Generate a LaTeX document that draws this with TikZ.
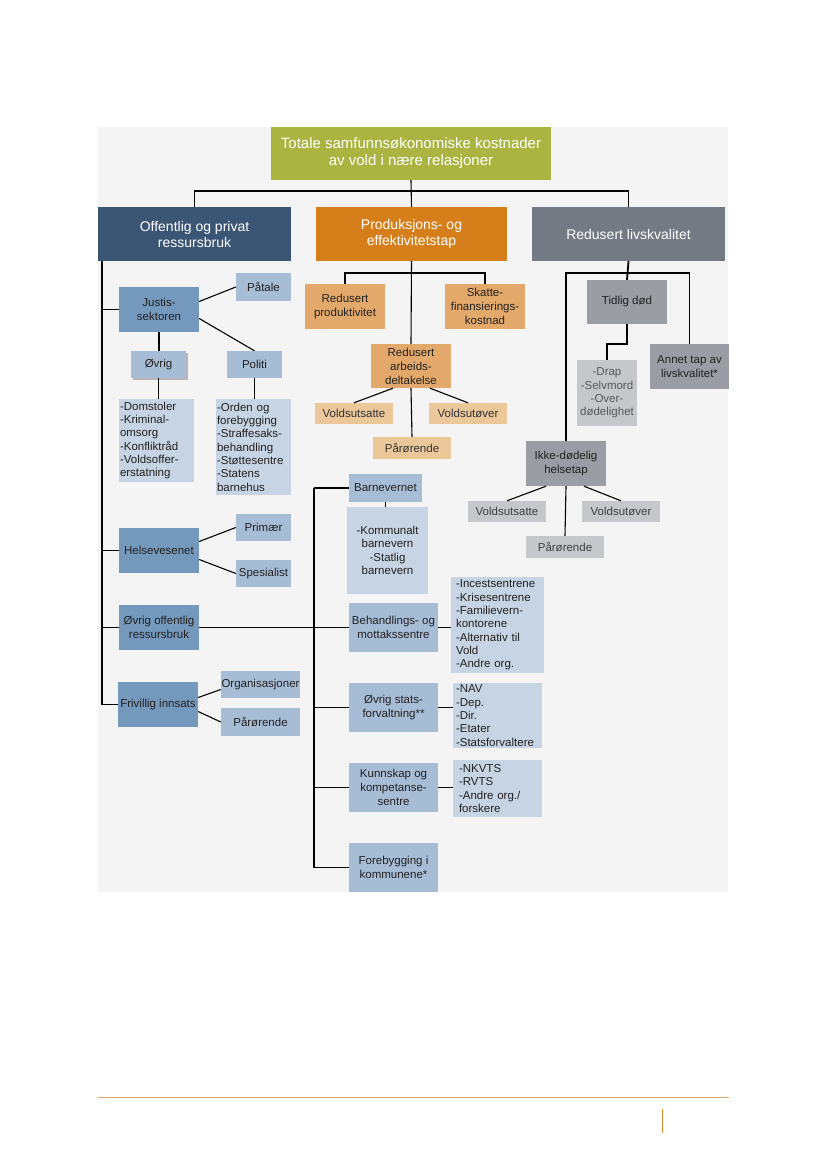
\documentclass[tikz,border=0pt]{standalone}
\usepackage{fontspec}
\setmainfont{Liberation Sans}
\usetikzlibrary{calc,shadows}
\definecolor{cTop}{HTML}{A9B441}
\definecolor{cDB}{HTML}{3B5675}
\definecolor{cOr}{HTML}{D67F1A}
\definecolor{cGr}{HTML}{737A83}
\definecolor{cMB}{HTML}{7598BD}
\definecolor{cLB}{HTML}{A7BDD6}
\definecolor{cXB}{HTML}{C6D4E3}
\definecolor{cMO}{HTML}{E3A96B}
\definecolor{cLO}{HTML}{EBC79A}
\definecolor{cMG}{HTML}{9A9DA3}
\definecolor{cLG}{HTML}{C5C7CA}
\definecolor{cPanel}{HTML}{F4F4F4}
\definecolor{cTxt}{HTML}{222222}
\newcommand\bx[7]{\node[#1, minimum width={(#5-#3)*1pt}, minimum height={(#6-#4)*1pt}] (#2) at ({(#3+#5)/2},{(#4+#6)/2}) {#7};}
\tikzset{
  box/.style={inner sep=1pt, align=center, text=cTxt, font=\fontsize{11.5}{14}\selectfont},
  topbox/.style={box, fill=cTop, text=white, font=\fontsize{15}{17}\selectfont},
  lone/.style={box, text=white, font=\fontsize{14}{16}\selectfont},
  mblue/.style={box, fill=cMB},
  lblue/.style={box, fill=cLB},
  xlist/.style={box, fill=cXB, font=\fontsize{11.5}{13.3}\selectfont},
  morange/.style={box, fill=cMO},
  lorange/.style={box, fill=cLO, text=black!80},
  mgray/.style={box, fill=cMG},
  lgray/.style={box, fill=cLG, text=black!75},
  conn/.style={draw=black, line width=1.1pt},
  thk/.style={draw=black, line width=1.8pt},
}
\begin{document}
\begin{tikzpicture}[x=1pt,y=-1pt]
\fill[white] (0,0) rectangle (827,1169);
\useasboundingbox (0,0) rectangle (827,1169);
\fill[cPanel] (98,127) rectangle (728,892);
% level 0/1
\bx{topbox}{top}{271}{127}{551}{180}{Totale samfunnsøkonomiske kostnader\\av vold i nære relasjoner}
\bx{lone,fill=cDB}{off}{98}{207}{291}{261}{Offentlig og privat\\ressursbruk}
\bx{lone,fill=cOr}{prod}{316}{207}{507}{261}{Produksjons- og\\effektivitetstap}
\bx{lone,fill=cGr}{red}{532}{207}{725}{261}{Redusert livskvalitet}
% left column
\bx{mblue}{just}{119}{287}{199}{332}{Justis-\\sektoren}
\bx{lblue}{patale}{236}{273}{291}{301}{Påtale}
\bx{lblue,drop shadow={shadow xshift=1.5pt,shadow yshift=-2pt,fill=black,opacity=.25}}{ovrig}{131}{351}{186}{378}{Øvrig}
\bx{lblue}{politi}{227}{351}{282}{378}{Politi}
\bx{xlist,align=left,text width=73pt}{ovlist}{119}{399}{194}{482}{-Domstoler\\-Kriminal-\\omsorg\\-Konfliktråd\\-Voldsoffer-\\erstatning}
\bx{xlist,align=left,text width=73pt}{pollist}{216}{399}{291}{495}{-Orden og\\forebygging\\-Straffesaks-\\behandling\\-Støttesentre\\-Statens\\barnehus}
\bx{mblue}{helse}{119}{528}{199}{573}{Helsevesenet}
\bx{lblue}{primaer}{236}{514}{291}{541}{Primær}
\bx{lblue}{spes}{236}{560}{291}{587}{Spesialist}
\bx{mblue}{ovoff}{119}{605}{199}{650}{Øvrig offentlig\\ressursbruk}
\bx{mblue}{fri}{118}{682}{198}{727}{Frivillig innsats}
\bx{lblue,inner sep=0pt}{org}{221}{671}{300}{698}{Organisasjoner}
\bx{lblue}{paar1}{221}{708}{300}{736}{Pårørende}
% middle
\bx{morange}{redprod}{305}{284}{385}{329}{Redusert\\produktivitet}
\bx{morange}{skatte}{445}{284}{525}{329}{Skatte-\\finansierings-\\kostnad}
\bx{morange}{arb}{371}{344}{451}{388}{Redusert\\arbeids-\\deltakelse}
\bx{lorange}{vs1}{315}{403}{393}{424}{Voldsutsatte}
\bx{lorange}{vo1}{429}{403}{507}{424}{Voldsutøver}
\bx{lorange}{pr1}{373}{437}{451}{459}{Pårørende}
\bx{lblue}{barn}{349}{474}{422}{502}{Barnevernet}
\bx{xlist}{barnlist}{347}{507}{428}{594}{-Kommunalt\\barnevern\\-Statlig\\barnevern}
\bx{lblue}{beh}{349}{603}{438}{652}{Behandlings- og\\mottakssentre}
\bx{xlist,align=left,inner xsep=5pt,text width=83pt}{behlist}{453}{577}{542}{673}{-Incestsentrene\\-Krisesentrene\\-Familievern-\\kontorene\\-Alternativ til\\Vold\\-Andre org.}
\bx{lblue}{os}{349}{683}{438}{732}{Øvrig stats-\\forvaltning**}
\bx{xlist,align=left,inner xsep=3pt,text width=83pt}{oslist}{453}{683}{542}{748}{-NAV\\-Dep.\\-Dir.\\-Etater\\-Statsforvaltere}
\bx{lblue}{kunn}{349}{763}{438}{812}{Kunnskap og\\kompetanse-\\sentre}
\bx{xlist,align=left,inner xsep=6pt,text width=77pt}{kunnlist}{453}{760}{542}{817}{-NKVTS\\-RVTS\\-Andre org./\\forskere}
\bx{lblue}{fore}{349}{843}{438}{892}{Forebygging i\\kommunene*}
% right
\bx{mgray}{tid}{587}{280}{667}{324}{Tidlig død}
\bx{lgray,text=black!65,font=\fontsize{11.5}{13.3}\selectfont}{tidlist}{577}{360}{637}{426}{-Drap\\-Selvmord\\-Over-\\dødelighet}
\bx{mgray}{annet}{650}{344}{729}{389}{Annet tap av\\livskvalitet*}
\bx{mgray}{ikke}{526}{441}{606}{486}{Ikke-dødelig\\helsetap}
\bx{lgray}{vs2}{468}{501}{546}{522}{Voldsutsatte}
\bx{lgray}{vo2}{582}{501}{660}{522}{Voldsutøver}
\bx{lgray}{pr2}{526}{536}{604}{558}{Pårørende}
% connectors top
\coordinate (hT) at (411,191);
\draw[conn] (off.north) |- (hT) -| (red.north);
\draw[conn] (top.south) -- (prod.north);
% left column connectors
\coordinate (L) at (102,261);
\draw[conn] (L) |- (fri.west);
\draw[thk] (L |- just.west) -- (just.west);
\draw[conn] (L |- helse.west) -- (helse.west);
\draw[conn] (L |- ovoff.west) -- (ovoff.west);
\draw[conn] (ovoff.east) -- (beh.west);
\draw[conn] ($(just.east)+(0,-8)$) -- (patale.west);
\draw[conn] ($(just.east)+(0,9)$) -- (politi.north);
\draw[conn] (just.south) -- (just.south |- ovrig.north);
\draw[conn] (ovrig.south) -- (ovrig.south |- ovlist.north);
\draw[conn] (politi.south) -- (politi.south |- pollist.north);
\draw[conn] ($(helse.east)+(0,-9)$) -- (primaer.west);
\draw[conn] ($(helse.east)+(0,9)$) -- (spes.west);
\draw[conn] ($(fri.east)+(0,-7)$) -- ($(org.west)+(0,5)$);
\draw[conn] ($(fri.east)+(0,7)$) -- (paar1.west);
% middle connectors
\coordinate (hP) at (411,273);
\draw[conn] (redprod.north) |- (hP) -| (skatte.north);
\draw[conn] (prod.south) -- (arb.north);
\draw[conn] ($(arb.south)+(-18,0)$) -- (vs1.north);
\draw[conn] ($(arb.south)+(19,0)$) -- (vo1.north);
\draw[conn] (arb.south) -- (pr1.north);
\coordinate (M) at (314,488);
\draw[conn] (M |- fore.west) -- (M);
\draw[thk] (M) -- (barn.west);
\draw[conn] (M |- os.west) -- (os.west);
\draw[conn] (M |- kunn.west) -- (kunn.west);
\draw[conn] (M |- fore.west) -- (fore.west);
\draw[conn] (barn.south) -- (barn.south |- barnlist.north);
\draw[conn] (beh.east) -- (beh.east -| behlist.west);
\draw[conn] (os.east) -- (os.east -| oslist.west);
\draw[conn] (kunn.east) -- (kunn.east -| kunnlist.west);
% right connectors
\coordinate (hR) at (628,273);
\draw[thk] (red.south) -- (tid.north);
\draw[conn] (ikke.north) |- (hR) -| (annet.north);
\draw[thk] (tid.south) -- ++(0,20) -| (tidlist.north);
\draw[conn] ($(ikke.south)+(-20,0)$) -- (vs2.north);
\draw[conn] ($(ikke.south)+(18,0)$) -- (vo2.north);
\draw[conn] (ikke.south) -- (pr2.north);
% footer
\draw[draw={rgb,255:red,219;green,165;blue,107}, line width=1pt] (98,1097) -- (729,1097);
\draw[draw={rgb,255:red,224;green,138;blue,42}, line width=1pt] (662,1109) -- (662,1133);
\end{tikzpicture}
\end{document}
